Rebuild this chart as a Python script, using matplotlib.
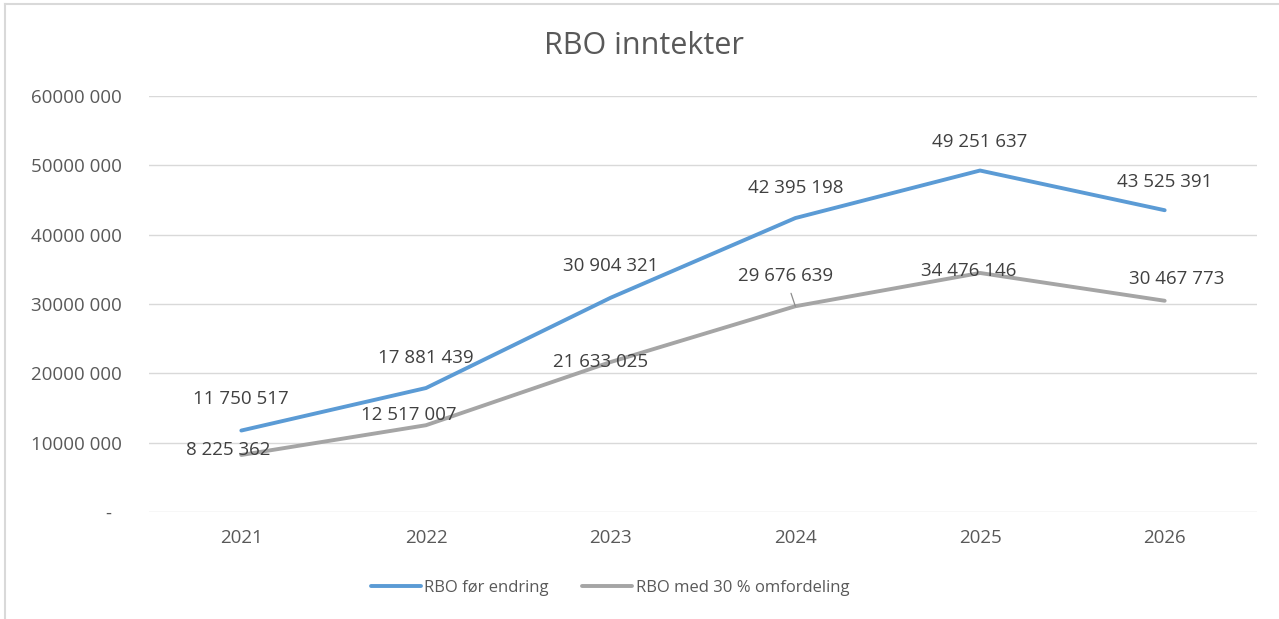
import matplotlib.pyplot as plt
from matplotlib.lines import Line2D
from matplotlib.ticker import FuncFormatter

plt.rcParams["font.family"] = ["Open Sans", "DejaVu Sans"]

years = ["2021", "2022", "2023", "2024", "2025", "2026"]
rbo_before = [11750517, 17881439, 30904321, 42395198, 49251637, 43525391]
rbo_30 = [8225362, 12517007, 21633025, 29676639, 34476146, 30467773]
yticks = [0, 10000000, 20000000, 30000000, 40000000, 50000000, 60000000]

BLUE = "#5B9BD5"
GREY = "#A5A5A5"
TEXT = "#595959"
FS = 13.5

W, H = 1279, 619
fig = plt.figure(figsize=(W / 100, H / 100), dpi=100)
ax = fig.add_axes([149 / W, 1 - 512 / H, (1257 - 149) / W, (512 - 96) / H])

x = list(range(len(years)))
ax.plot(x, rbo_before, color=BLUE, lw=2.8, solid_capstyle="round",
        label="RBO før endring")
ax.plot(x, rbo_30, color=GREY, lw=2.8, solid_capstyle="round",
        label="RBO med 30 % omfordeling")

ax.set_xlim(-0.5, len(years) - 0.5)
ax.set_ylim(0, 60000000)
ax.set_xticks(x)
ax.set_xticklabels(years)
ax.set_yticks(yticks)
# Excel accounting style: dash for zero, padded a little to the left
ax.yaxis.set_major_formatter(
    FuncFormatter(lambda v, p: "-  " if v == 0 else f"{int(v // 1000)} 000"))
ax.tick_params(length=0, labelsize=FS, colors=TEXT)
ax.tick_params(axis="y", pad=19.5)
ax.tick_params(axis="x", pad=12)
ax.grid(axis="y", color="#D9D9D9", lw=1)
ax.set_axisbelow(True)
for s in ax.spines.values():
    s.set_visible(False)


def fmt(v):
    return f"{v:,}".replace(",", " ")


# offsets in pixels (dx, dy) for the data labels
blue_off = [(0, 32), (0, 30), (0, 32), (0, 30), (0, 29), (0, 28)]
grey_off = [(-13, 5), (-17, 10), (-10, 0), (-10, 30), (-11, 2), (12, 22)]

for i, v in enumerate(rbo_before):
    dx, dy = blue_off[i]
    ax.annotate(fmt(v), (i, v), xytext=(dx * 0.72, dy * 0.72),
                textcoords="offset points", ha="center", va="center",
                fontsize=FS, color="#404040")
for i, v in enumerate(rbo_30):
    dx, dy = grey_off[i]
    arrow = dict(arrowstyle="-", color="#8C8C8C", lw=0.9, shrinkA=4,
                 shrinkB=0) if i == 3 else None
    ax.annotate(fmt(v), (i, v), xytext=(dx * 0.72, dy * 0.72),
                textcoords="offset points", ha="center", va="center",
                fontsize=FS, color="#404040", arrowprops=arrow)

fig.text(644 / W, 1 - 46 / H, "RBO inntekter", ha="center", va="center",
         fontsize=22, color=TEXT)

handles = [Line2D([], [], color=BLUE, lw=2.8, solid_capstyle="round"),
           Line2D([], [], color=GREY, lw=2.8, solid_capstyle="round")]
fig.legend(handles, ["RBO før endring", "RBO med 30 % omfordeling"],
           loc="center", bbox_to_anchor=(610 / W, 1 - 588 / H), ncol=2,
           frameon=False, fontsize=12, labelcolor=TEXT, handlelength=3.0,
           handletextpad=0.2, columnspacing=2.0)

# outer chart border (left and top visible)
fig.add_artist(Line2D([5 / W, 5 / W], [0, 1 - 4 / H], color="#D9D9D9",
                      lw=1.5, transform=fig.transFigure))
fig.add_artist(Line2D([5 / W, 1], [1 - 4 / H, 1 - 4 / H], color="#D9D9D9",
                      lw=1.5, transform=fig.transFigure))

fig.savefig("out.png", dpi=100)
